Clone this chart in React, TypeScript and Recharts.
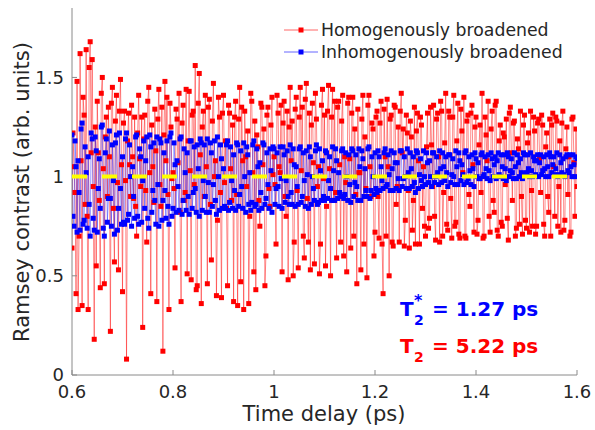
import { LineChart, Line, XAxis, YAxis } from "recharts";

// sampling grid of the measurement (ps)
const T_START = 0.6;
const T_STEP = 0.002;

const homogeneous = [
  0.64, 1.22, 1.05, 0.92, 0.41, 1.48, 0.33, 0.7, 1.62, 1.08, 0.35, 1.4, 1.31, 0.86, 1.64, 0.8, 0.33, 1.55, 1.68, 1.12, 1.59, 0.95, 0.18, 1.25, 0.55, 1.38, 1.12, 0.88, 0.44, 1.42, 1.5, 1.04, 0.46, 1.2, 1.3, 0.9, 1.35, 1.1, 0.22, 1.37, 1.45, 0.84, 0.57, 1.28, 1.41, 0.97, 0.53, 1.33, 1.49, 1.06,
  0.42, 1.27, 1.33, 0.98, 0.08, 1.18, 1.32, 1.06, 0.9, 1.36, 1.1, 0.89, 1.3, 0.85, 0.7, 1.22, 1.41, 1.09, 0.95, 1.3, 0.24, 1.19, 1.31, 0.93, 0.67, 1.38, 1.45, 1.02, 0.41, 1.26, 1.05, 0.87, 1.34, 1.13, 0.37, 1.29, 1.44, 0.96, 0.85, 1.35, 0.12, 1.21, 1.48, 1.08, 1.4, 0.91, 0.33, 1.37, 1.25, 0.99,
  1.02, 0.94, 0.54, 1.34, 1.29, 1.07, 1.42, 0.82, 0.37, 1.27, 1.36, 0.88, 0.92, 1.44, 0.51, 1.18, 1.43, 1.03, 0.48, 1.31, 1.33, 0.96, 1.56, 0.43, 0.45, 1.37, 1.52, 1.11, 0.36, 1.25, 1.33, 0.9, 1.41, 1.05, 0.46, 1.35, 1.39, 0.86, 0.58, 1.28, 1.47, 1.0, 1.08, 0.4, 0.78, 1.4, 1.3, 0.92, 0.39, 1.32,
  1.41, 0.97, 1.18, 0.84, 0.45, 1.36, 1.32, 1.04, 0.88, 1.26, 0.37, 1.3, 1.38, 0.91, 0.35, 1.29, 1.45, 0.47, 1.35, 1.08, 0.33, 1.33, 1.1, 0.95, 1.23, 0.36, 0.8, 1.42, 1.38, 1.02, 0.52, 1.28, 0.43, 1.21, 1.15, 0.88, 0.75, 1.37, 1.35, 1.06, 1.24, 0.45, 0.6, 1.31, 1.35, 0.94, 0.85, 1.26, 1.4, 1.01,
  1.1, 0.96, 0.66, 1.41, 1.32, 1.05, 1.02, 1.36, 0.52, 1.27, 1.38, 0.9, 0.8, 1.33, 0.48, 1.25, 1.45, 1.08, 1.28, 0.5, 0.67, 1.34, 1.4, 0.93, 0.54, 1.3, 1.45, 1.03, 1.35, 0.7, 0.59, 1.39, 1.47, 0.89, 0.67, 1.32, 0.53, 1.26, 1.37, 1.07, 0.56, 1.42, 1.29, 0.95, 1.05, 0.51, 0.66, 1.36, 1.44, 0.99,
  1.31, 0.55, 0.85, 1.33, 1.46, 1.04, 0.5, 1.3, 1.44, 0.88, 1.38, 0.92, 0.59, 1.35, 1.38, 1.06, 0.67, 1.28, 1.41, 0.6, 1.1, 0.97, 0.52, 1.37, 1.4, 1.09, 0.64, 1.32, 1.4, 0.7, 1.24, 0.91, 0.46, 1.34, 1.02, 1.02, 0.53, 1.29, 1.41, 0.66, 1.2, 0.94, 0.49, 1.36, 1.41, 1.05, 0.9, 1.27, 1.24, 0.6,
  0.72, 1.3, 1.33, 0.9, 0.69, 1.27, 1.38, 0.66, 0.41, 1.34, 1.1, 0.7, 1.39, 1.05, 0.5, 1.29, 1.31, 0.67, 0.65, 1.36, 1.35, 0.86, 0.95, 1.25, 0.67, 1.33, 1.42, 1.12, 1.24, 0.65, 0.78, 1.31, 1.22, 0.93, 0.64, 1.28, 1.2, 0.73, 0.88, 1.35, 0.66, 1.23, 1.32, 1.08, 0.66, 1.3, 1.26, 0.84, 1.05, 0.75,
  0.7, 1.15, 1.32, 0.74, 0.79, 1.35, 1.16, 0.95, 1.36, 0.8, 0.68, 1.29, 1.32, 1.1, 0.67, 1.38, 1.33, 0.7, 0.92, 1.17, 1.42, 0.76, 0.73, 1.33, 1.3, 0.89, 0.69, 1.3, 1.41, 0.75, 0.77, 1.18, 1.37, 0.71, 0.69, 1.34, 1.23, 1.02, 1.4, 0.7, 0.69, 1.28, 1.31, 0.91, 0.85, 1.32, 1.36, 1.06, 0.72, 1.25,
  1.3, 0.71, 0.78, 1.16, 1.26, 0.92, 1.42, 0.69, 0.7, 1.3, 1.21, 1.08, 1.38, 0.8, 0.72, 1.24, 1.33, 0.88, 0.82, 1.36, 1.38, 0.73, 0.7, 1.18, 1.26, 0.77, 0.75, 1.22, 1.2, 0.96, 1.29, 0.79, 0.68, 1.32, 1.35, 1.12, 0.88, 1.27, 1.28, 0.7, 0.74, 1.19, 1.14, 0.76, 1.33, 0.9, 0.71, 1.26, 1.31, 0.78,
  0.74, 1.17, 1.22, 0.72, 1.33, 0.93, 0.75, 1.3, 1.23, 0.71, 0.75, 1.27, 1.29, 1.09, 0.92, 1.31, 1.26, 0.76, 0.7, 1.15, 1.22, 0.9, 0.82, 1.29, 0.7, 1.26, 1.32, 1.05, 0.8, 1.3, 1.28, 0.75, 0.95, 1.18, 0.72, 1.27, 1.33, 0.73, 0.78, 1.14, 1.25, 0.91, 1.1, 0.7, 0.72, 1.29, 1.3, 1.07, 0.8, 1.24, 0.95,
];

const inhomogeneous = [
  1.21, 0.8, 0.75, 1.18, 1.05, 0.72, 1.08, 0.92, 0.73, 1.24, 1.27, 0.76, 0.78, 1.15, 1.02, 0.74, 1.1, 0.86, 0.7, 1.22, 1.19, 0.79, 0.73, 1.2, 1.13, 0.72, 0.94, 1.09, 0.84, 1.25, 1.26, 0.74, 0.7, 1.12, 1.19, 0.77, 0.89, 1.23, 0.89, 0.75, 1.16, 0.98, 0.71, 1.17, 1.21, 0.73, 0.84, 1.22, 0.94, 0.76,
  1.1, 0.77, 0.76, 1.19, 1.22, 0.78, 0.81, 1.16, 1.0, 0.75, 1.05, 0.9, 0.79, 1.2, 1.21, 0.8, 0.76, 1.14, 1.1, 0.77, 0.98, 1.18, 0.84, 1.08, 1.2, 0.79, 0.74, 1.21, 1.15, 0.82, 0.93, 1.17, 0.88, 0.76, 1.2, 0.96, 0.75, 1.19, 1.17, 0.78, 0.88, 1.12, 0.93, 0.79, 1.18, 0.85, 0.76, 1.2, 1.22, 0.8,
  0.84, 1.17, 1.06, 0.82, 1.08, 0.95, 0.83, 1.19, 1.2, 0.81, 0.88, 1.14, 1.02, 0.83, 1.12, 0.9, 0.81, 1.18, 1.18, 0.84, 0.92, 1.15, 0.94, 0.82, 1.16, 1.04, 0.8, 1.19, 1.17, 0.83, 0.98, 1.16, 0.9, 0.82, 1.19, 0.97, 0.82, 1.17, 1.12, 0.85, 0.96, 1.18, 0.88, 0.81, 1.2, 1.0, 0.83, 1.16, 1.09, 0.84,
  1.04, 0.85, 0.84, 1.16, 1.18, 0.83, 0.87, 1.15, 0.98, 0.84, 1.11, 0.93, 0.83, 1.17, 1.16, 0.85, 0.91, 1.13, 0.95, 0.84, 1.17, 1.0, 0.82, 1.15, 1.11, 0.86, 1.02, 0.83, 0.87, 1.16, 1.18, 0.85, 0.86, 1.14, 1.05, 0.83, 1.07, 0.92, 0.84, 1.17, 1.16, 0.86, 0.89, 1.12, 0.96, 0.84, 1.14, 1.03, 0.82, 1.15,
  1.14, 0.86, 0.94, 1.12, 0.95, 0.85, 1.15, 0.99, 0.84, 1.15, 1.11, 0.87, 0.98, 1.13, 0.9, 0.86, 1.16, 0.92, 0.86, 1.14, 1.06, 0.85, 1.05, 0.95, 0.86, 1.14, 1.15, 0.87, 0.9, 1.12, 0.98, 0.85, 1.13, 1.01, 0.84, 1.15, 1.1, 0.86, 1.0, 0.94, 0.88, 1.13, 1.16, 0.86, 0.87, 1.14, 1.03, 0.88, 1.08, 0.9,
  0.88, 1.13, 1.12, 0.89, 0.98, 1.1, 0.94, 0.88, 1.15, 1.03, 0.88, 1.14, 1.08, 0.89, 1.02, 0.92, 0.9, 1.13, 1.14, 0.89, 0.91, 1.12, 1.0, 0.88, 1.11, 0.96, 0.87, 1.14, 1.13, 0.9, 0.97, 1.11, 0.95, 0.88, 1.14, 1.05, 0.88, 1.13, 1.09, 0.9, 1.04, 0.93, 0.9, 1.14, 1.15, 0.89, 0.93, 1.1, 1.0, 0.91,
  1.12, 0.94, 0.92, 1.13, 1.1, 0.93, 1.05, 0.98, 0.94, 1.12, 1.14, 0.95, 0.96, 1.11, 1.01, 0.93, 1.13, 1.04, 0.93, 1.12, 1.07, 0.94, 1.07, 0.99, 0.93, 1.13, 1.13, 0.95, 0.99, 1.1, 1.0, 0.94, 1.14, 1.02, 0.94, 1.12, 1.04, 0.95, 1.1, 0.97, 0.92, 1.13, 1.12, 0.94, 1.01, 1.09, 0.98, 0.95, 1.13, 1.0,
  0.96, 1.12, 1.07, 0.97, 1.08, 1.0, 0.95, 1.12, 1.12, 0.97, 1.0, 1.1, 1.02, 0.96, 1.13, 1.04, 0.97, 1.12, 1.05, 0.98, 1.1, 1.02, 0.95, 1.11, 1.11, 0.97, 1.01, 1.09, 1.0, 0.96, 1.13, 1.05, 0.96, 1.12, 1.08, 0.98, 1.06, 1.01, 0.96, 1.12, 1.13, 0.97, 0.99, 1.1, 1.03, 0.96, 1.11, 1.04, 0.95, 1.12,
  1.09, 1.0, 1.07, 0.99, 0.99, 1.11, 1.12, 1.0, 1.01, 1.1, 1.04, 0.99, 1.11, 1.03, 0.98, 1.12, 1.09, 1.0, 1.06, 1.1, 0.99, 1.08, 1.12, 1.01, 1.0, 1.11, 1.05, 0.99, 1.11, 1.04, 0.98, 1.12, 1.1, 1.0, 1.03, 1.09, 1.02, 0.99, 1.12, 1.05, 0.99, 1.11, 1.07, 1.0, 1.09, 1.02, 0.99, 1.12, 1.11, 1.01,
  1.02, 1.11, 1.04, 1.0, 1.12, 1.03, 1.0, 1.1, 1.08, 1.01, 1.08, 1.11, 1.0, 1.07, 1.11, 1.01, 1.03, 1.1, 1.04, 1.0, 1.11, 1.05, 1.0, 1.12, 1.1, 1.02, 1.06, 1.1, 1.01, 1.04, 1.12, 1.0, 1.01, 1.11, 1.07, 1.02, 1.09, 1.01, 1.0, 1.1, 1.11, 1.03, 1.02, 1.11, 1.05, 1.0, 1.11, 1.06, 1.0, 1.1, 1.09,
];

const xTicks = [0.6, 0.8, 1, 1.2, 1.4, 1.6];
const yTicks = [0, 0.5, 1, 1.5];
const meanLevel = 1;

const data = homogeneous.map((v, i) => ({
  t: +(T_START + i * T_STEP).toFixed(3),
  homo: v,
  inhomo: inhomogeneous[i],
  level: meanLevel,
}));

const FONT = "DejaVu Sans";
const AXIS = "#8a8a8a";
const TEXT = "#262626";
const RED = "#ff0000";
const BLUE = "#0000ff";

const squareDot = (color: string) => (props: any) => {
  const { cx, cy, index } = props;
  if (cx == null || cy == null) return <g key={index} />;
  return <rect key={index} x={cx - 2.5} y={cy - 2.5} width={5} height={5} fill={color} />;
};

const XTick = ({ x, y, payload }: any) => (
  <g>
    <line x1={x} x2={x} y1={y} y2={y - 5} stroke={AXIS} />
    <text x={x} y={y + 23} textAnchor="middle" fontSize={18} fontFamily={FONT} fill={TEXT}>
      {String(payload.value)}
    </text>
  </g>
);

const YTick = ({ x, y, payload }: any) => (
  <g>
    <line x1={x} x2={x + 5} y1={y} y2={y} stroke={AXIS} />
    <text x={x - 8} y={y} dy="0.34em" textAnchor="end" fontSize={18} fontFamily={FONT} fill={TEXT}>
      {String(payload.value)}
    </text>
  </g>
);

const XTitle = () => (
  <text x={324} y={421} textAnchor="middle" fontSize={21} fontFamily={FONT} fill={TEXT}>
    Time delay (ps)
  </text>
);

const YTitle = () => (
  <text
    transform="translate(29,192) rotate(-90)"
    textAnchor="middle"
    fontSize={21}
    fontFamily={FONT}
    fill={TEXT}
  >
    Ramsey contrast (arb. units)
  </text>
);

function Overlay() {
  return (
    <svg
      width={595}
      height={430}
      style={{ position: "absolute", left: 0, top: 0, pointerEvents: "none" }}
      fontFamily={FONT}
    >
      {/* legend */}
      <line x1={284} x2={318} y1={30} y2={30} stroke={RED} strokeOpacity={0.6} />
      <rect x={298.5} y={27.5} width={5} height={5} fill={RED} />
      <text x={321} y={36} fontSize={17.3} fill={TEXT}>Homogenously broadened</text>
      <line x1={284} x2={318} y1={52} y2={52} stroke={BLUE} strokeOpacity={0.6} />
      <rect x={298.5} y={49.5} width={5} height={5} fill={BLUE} />
      <text x={321} y={58} fontSize={17.3} fill={TEXT}>Inhomogenously broadened</text>

      {/* fitted dephasing times */}
      <g fontWeight="bold" fill={BLUE}>
        <text x={400} y={316} fontSize={20}>T</text>
        <text x={414} y={325} fontSize={14}>2</text>
        <text x={414} y={306} fontSize={16}>*</text>
        <text x={432} y={316} fontSize={20}>= 1.27 ps</text>
      </g>
      <g fontWeight="bold" fill={RED}>
        <text x={400} y={353} fontSize={20}>T</text>
        <text x={414} y={362} fontSize={14}>2</text>
        <text x={432} y={353} fontSize={20}>= 5.22 ps</text>
      </g>
    </svg>
  );
}

export default function App() {
  return (
    <div style={{ position: "absolute", left: 0, top: 0, width: 595, height: 430, background: "#fff" }}>
      <LineChart
        width={595}
        height={430}
        data={data}
        margin={{ top: 8, right: 18, left: 0, bottom: 0 }}
      >
        <XAxis
          dataKey="t"
          type="number"
          domain={[0.6, 1.6]}
          ticks={xTicks}
          allowDataOverflow
          height={55}
          stroke={AXIS}
          tickLine={false}
          tickSize={0}
          tickMargin={0}
          tick={<XTick />}
          label={<XTitle />}
          interval={0}
        />
        <YAxis
          type="number"
          domain={[0, 1.85]}
          ticks={yTicks}
          allowDataOverflow
          width={72}
          stroke={AXIS}
          tickLine={false}
          tickSize={0}
          tickMargin={0}
          tick={<YTick />}
          label={<YTitle />}
          interval={0}
        />
        <Line
          dataKey="homo"
          stroke={RED}
          strokeOpacity={0.45}
          strokeWidth={1}
          dot={squareDot(RED)}
          activeDot={false}
          isAnimationActive={false}
        />
        <Line
          dataKey="inhomo"
          stroke={BLUE}
          strokeOpacity={0.4}
          strokeWidth={1}
          dot={squareDot(BLUE)}
          activeDot={false}
          isAnimationActive={false}
        />
        <Line
          dataKey="level"
          stroke="#ffff00"
          strokeWidth={4}
          strokeDasharray="15 15"
          dot={false}
          activeDot={false}
          isAnimationActive={false}
          {...({ zIndex: 2000 } as any)}
        />
      </LineChart>
      <Overlay />
    </div>
  );
}
